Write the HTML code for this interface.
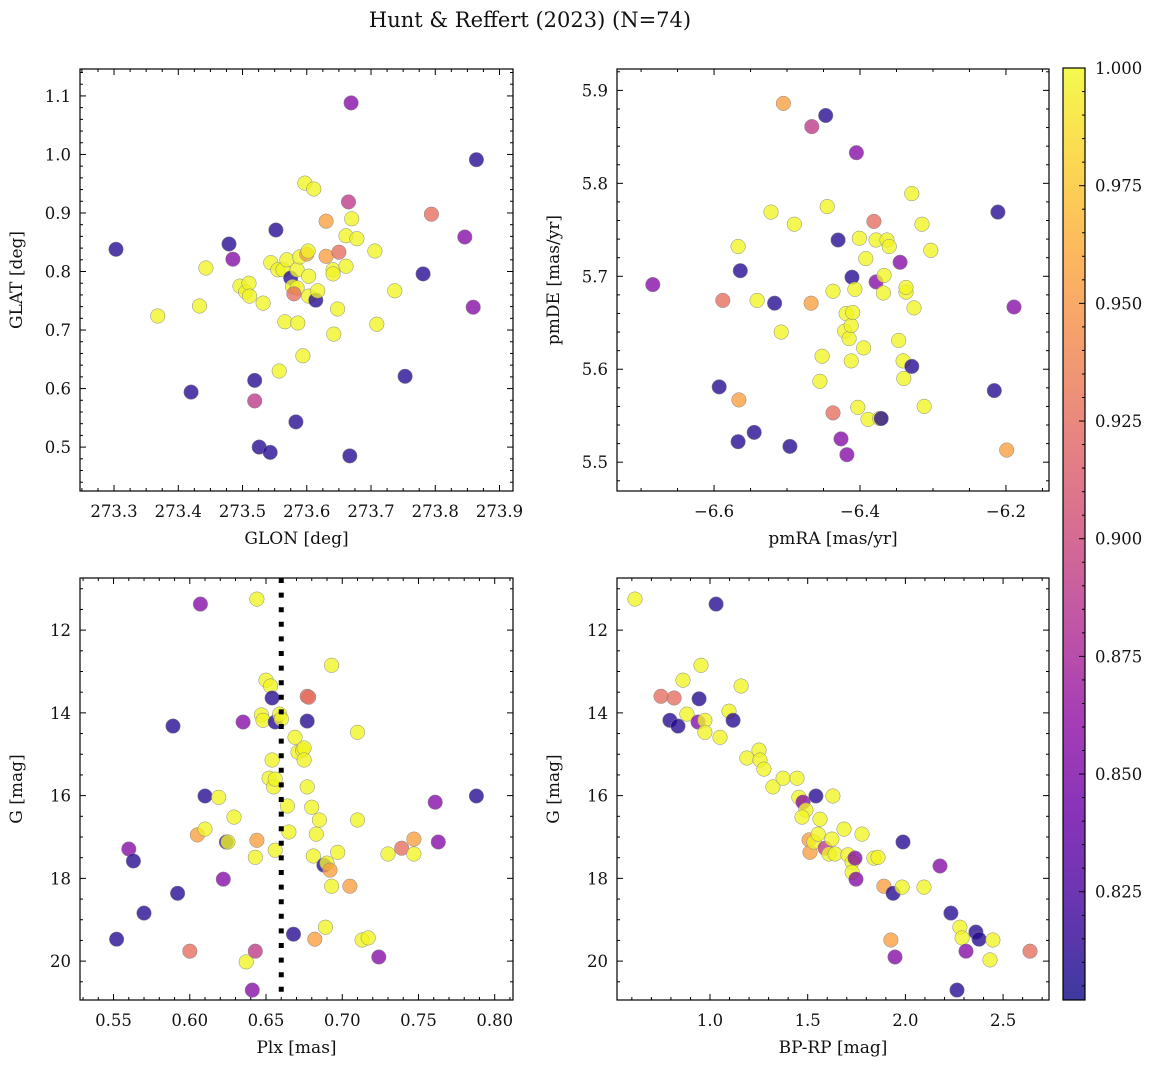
<!DOCTYPE html>
<html><head><meta charset="utf-8">
<style>
html,body{margin:0;padding:0;background:#fff;}
svg text{font-family:"DejaVu Serif","Liberation Serif",serif;fill:#111;}
</style></head>
<body>
<svg id="fig" width="1160" height="1068" viewBox="0 0 1160 1068" xmlns="http://www.w3.org/2000/svg">
<text x="530" y="27" font-size="21" text-anchor="middle">Hunt &amp; Reffert (2023) (N=74)</text>
</svg>
<script>
// Colour classes (membership probability)
const D=0.81, P=0.855, M=0.89, S=0.925, O=0.955, Y=0.998;

// Panel 1: GLON / GLAT
const p1Glon=[273.303,273.368,273.420,273.433,273.443,273.479,273.485,273.496,273.505,273.510,273.511,273.519,273.526,273.532,273.519,273.544,273.543,273.552,273.555,273.557,273.563,273.566,273.569,273.575,273.578,273.583,273.585,273.585,273.586,273.589,273.594,273.597,273.600,273.602,273.603,273.603,273.580,273.611,273.614,273.617,273.630,273.630,273.641,273.641,273.642,273.648,273.650,273.661,273.661,273.665,273.667,273.669,273.670,273.678,273.706,273.709,273.737,273.753,273.781,273.794,273.846,273.859,273.864];
const p1Glat=[0.838,0.724,0.594,0.741,0.806,0.847,0.821,0.775,0.765,0.780,0.758,0.614,0.500,0.746,0.579,0.815,0.491,0.871,0.803,0.630,0.803,0.714,0.820,0.789,0.774,0.543,0.803,0.772,0.712,0.825,0.656,0.951,0.830,0.835,0.792,0.758,0.762,0.941,0.751,0.767,0.886,0.826,0.803,0.796,0.693,0.736,0.833,0.809,0.861,0.919,0.485,1.088,0.890,0.856,0.835,0.710,0.767,0.621,0.796,0.898,0.859,0.739,0.991];
const p1Prob=[D,Y,D,Y,Y,D,P,Y,Y,Y,Y,D,D,Y,M,Y,D,D,Y,Y,Y,Y,Y,D,Y,D,Y,Y,Y,Y,Y,Y,O,Y,Y,Y,S,Y,D,Y,O,O,Y,Y,Y,Y,S,Y,Y,M,D,P,Y,Y,Y,Y,Y,D,D,S,P,P,D];

// Panel 2: pmRA / pmDE
const p2Pmra=[-6.684,-6.593,-6.588,-6.567,-6.567,-6.566,-6.564,-6.545,-6.541,-6.522,-6.517,-6.508,-6.505,-6.496,-6.490,-6.467,-6.466,-6.447,-6.455,-6.452,-6.445,-6.437,-6.437,-6.430,-6.426,-6.421,-6.419,-6.418,-6.415,-6.412,-6.412,-6.411,-6.410,-6.407,-6.405,-6.403,-6.401,-6.395,-6.392,-6.389,-6.381,-6.378,-6.378,-6.373,-6.371,-6.368,-6.367,-6.363,-6.360,-6.345,-6.347,-6.337,-6.337,-6.340,-6.341,-6.329,-6.329,-6.326,-6.315,-6.312,-6.303,-6.216,-6.211,-6.199,-6.189];
const p2Pmde=[5.691,5.581,5.674,5.522,5.732,5.567,5.706,5.532,5.674,5.769,5.671,5.640,5.886,5.517,5.756,5.671,5.861,5.873,5.587,5.614,5.775,5.684,5.553,5.739,5.525,5.641,5.660,5.508,5.633,5.647,5.609,5.699,5.661,5.686,5.833,5.559,5.741,5.623,5.719,5.546,5.759,5.739,5.694,5.547,5.547,5.682,5.701,5.739,5.732,5.715,5.631,5.683,5.688,5.590,5.609,5.603,5.789,5.666,5.756,5.560,5.728,5.577,5.769,5.513,5.667];
const p2Prob=[P,D,S,D,Y,O,D,D,Y,Y,D,Y,O,D,Y,O,M,D,Y,Y,Y,Y,S,D,P,Y,Y,P,Y,Y,Y,D,Y,Y,P,Y,Y,Y,Y,Y,S,Y,P,Y,D,Y,Y,Y,Y,P,Y,Y,Y,Y,Y,D,Y,Y,Y,Y,Y,D,D,O,P];

// Panel 3: Plx / G
const p3Plx=[0.552,0.560,0.563,0.570,0.589,0.592,0.600,0.605,0.607,0.610,0.619,0.622,0.624,0.625,0.629,0.635,0.637,0.641,0.643,0.644,0.644,0.647,0.648,0.650,0.652,0.653,0.654,0.654,0.655,0.656,0.656,0.659,0.660,0.664,0.665,0.668,0.669,0.671,0.674,0.675,0.675,0.677,0.678,0.677,0.677,0.680,0.681,0.683,0.685,0.688,0.689,0.690,0.682,0.692,0.693,0.693,0.697,0.705,0.710,0.710,0.713,0.717,0.724,0.730,0.739,0.747,0.747,0.761,0.763,0.788,0.656,0.643,0.610];
const p3G=[19.47,17.29,17.58,18.84,14.32,18.36,19.76,16.95,11.37,16.01,16.04,18.02,17.12,17.12,16.52,14.22,20.02,20.70,19.76,11.25,17.08,14.05,14.18,13.21,15.58,13.35,13.64,15.14,15.79,15.60,14.22,14.03,14.15,16.25,16.88,19.35,14.59,14.95,14.90,14.85,15.14,13.60,13.62,14.20,15.79,16.28,17.46,16.93,16.59,17.68,19.18,17.63,19.47,17.80,18.19,12.85,17.37,18.19,14.47,16.59,19.49,19.44,19.90,17.41,17.27,17.05,17.41,16.16,17.12,16.01,17.32,17.49,16.81];
const p3Prob=[D,P,D,D,D,D,S,O,P,D,Y,P,D,Y,Y,P,Y,P,M,Y,O,Y,Y,Y,Y,Y,D,Y,Y,Y,D,Y,Y,Y,Y,D,Y,Y,Y,Y,Y,S,S,D,Y,Y,Y,Y,Y,D,Y,Y,O,O,Y,Y,Y,O,Y,Y,Y,Y,P,Y,S,O,Y,P,P,D,Y,Y,Y];

// Panel 4: BP-RP / G
const p4Bprp=[0.616,1.031,0.749,0.816,0.944,0.862,0.954,0.795,0.836,0.882,0.939,0.974,0.974,1.051,1.097,1.118,1.159,1.189,1.251,1.256,1.276,1.322,1.374,1.445,1.455,1.476,1.491,1.471,1.507,1.512,1.532,1.542,1.553,1.563,1.589,1.609,1.624,1.640,1.629,1.686,1.706,1.727,1.727,1.742,1.747,1.778,1.839,1.860,1.890,1.926,1.937,1.947,1.983,1.988,2.095,2.177,2.233,2.279,2.290,2.361,2.377,2.310,2.264,2.433,2.448,2.638];
const p4G=[11.25,11.37,13.60,13.64,13.66,13.21,12.85,14.18,14.32,14.03,14.22,14.18,14.47,14.59,13.96,14.18,13.35,15.09,14.90,15.14,15.36,15.79,15.58,15.58,16.04,16.16,16.35,16.52,17.07,17.37,17.12,16.01,16.93,16.57,17.27,17.41,17.05,17.41,16.01,16.81,17.43,17.61,17.85,17.51,18.02,16.93,17.51,17.49,18.19,19.49,18.36,19.90,18.21,17.12,18.21,17.70,18.84,19.18,19.44,19.30,19.47,19.76,20.70,19.97,19.49,19.76];
const p4Prob=[Y,D,S,S,D,Y,Y,D,D,Y,P,Y,Y,Y,Y,D,Y,Y,Y,Y,Y,Y,Y,Y,Y,P,Y,Y,O,O,Y,D,Y,Y,M,Y,Y,Y,Y,Y,Y,Y,Y,P,P,Y,Y,Y,O,O,D,P,Y,D,Y,P,D,Y,Y,D,D,P,D,Y,Y,S];

const cbTicks=[0.825,0.850,0.875,0.900,0.925,0.950,0.975,1.000];
const VMIN=0.802, VMAX=1.0;

const NS="http://www.w3.org/2000/svg";
const svg=document.getElementById('fig');
function el(tag,attrs,parent){const e=document.createElementNS(NS,tag);for(const k in attrs)e.setAttribute(k,attrs[k]);(parent||svg).appendChild(e);return e;}

const plasma=[[13,8,135],[65,4,157],[106,0,168],[143,13,164],[177,42,144],[204,71,120],[225,100,98],[242,132,75],[252,166,54],[252,206,37],[240,249,33]];
function cmap(t){t=Math.max(0,Math.min(1,t))*10;const i=Math.min(9,Math.floor(t)),f=t-i;const a=plasma[i],b=plasma[i+1];return 'rgb('+[0,1,2].map(k=>Math.round(a[k]+(b[k]-a[k])*f)).join(',')+')';}
function colorOf(v){return cmap((v-VMIN)/(VMAX-VMIN));}

function fmt(v,d){return v.toFixed(d).replace('-','\u2212');}

function panel(cfg){
  const {name,x0,y0,w,h,xmin,xmax,ymin,ymax,yinv,xmaj,xmin_,ymaj,ymin_,xdec,ydec,xlabel,ylabel,xs,ys,cs}=cfg;
  const sx=v=>x0+(v-xmin)/(xmax-xmin)*w;
  const sy=v=>yinv? y0+(v-ymin)/(ymax-ymin)*h : y0+h-(v-ymin)/(ymax-ymin)*h;
  const g=el('g',{});
  
  
  const pts=el('g',{},g);
  
  
  for(let i=0;i<xs.length;i++){
    const c=el('circle',{cx:sx(xs[i]).toFixed(1),cy:sy(ys[i]).toFixed(1),r:7.3,fill:colorOf(cs[i]),'fill-opacity':0.78,stroke:'#888','stroke-width':0.5},pts);
    
    
  }
  if(cfg.extra)cfg.extra(g,sx,sy);
  const frame=el('rect',{x:x0,y:y0,width:w,height:h,fill:'none',stroke:'#000','stroke-width':1.2},g);
  
  
  const lo=Math.min(xmin,xmax),hi=Math.max(xmin,xmax);
  for(let k=Math.ceil(lo/xmin_-1e-6);k*xmin_<=hi+1e-9;k++){
    const v=k*xmin_;const X=sx(v);const isMaj=Math.abs(v/xmaj-Math.round(v/xmaj))<1e-6;const L=isMaj?6:3;
    el('line',{x1:X,x2:X,y1:y0+h,y2:y0+h-L,stroke:'#000','stroke-width':1},g);
    el('line',{x1:X,x2:X,y1:y0,y2:y0+L,stroke:'#000','stroke-width':1},g);
    if(isMaj){const t=el('text',{x:X,y:y0+h+26,'font-size':16.5,'text-anchor':'middle'},g);t.textContent=fmt(v,xdec);
      }
  }
  const ylo=Math.min(ymin,ymax),yhi=Math.max(ymin,ymax);
  for(let k=Math.ceil(ylo/ymin_-1e-6);k*ymin_<=yhi+1e-9;k++){
    const v=k*ymin_;const Y=sy(v);const isMaj=Math.abs(v/ymaj-Math.round(v/ymaj))<1e-6;const L=isMaj?6:3;
    el('line',{x1:x0,x2:x0+L,y1:Y,y2:Y,stroke:'#000','stroke-width':1},g);
    el('line',{x1:x0+w,x2:x0+w-L,y1:Y,y2:Y,stroke:'#000','stroke-width':1},g);
    if(isMaj){const t=el('text',{x:x0-9,y:Y+6,'font-size':16.5,'text-anchor':'end'},g);t.textContent=fmt(v,ydec);
      }
  }
  const xl=el('text',{x:x0+w/2,y:y0+h+53,'font-size':17,'text-anchor':'middle'},g);xl.textContent=xlabel;
  
  const ylx=x0-58;const yly=y0+h/2;
  const yl=el('text',{x:ylx,y:yly,'font-size':17,'text-anchor':'middle',transform:`rotate(-90 ${ylx} ${yly})`},g);yl.textContent=ylabel;
  
}

panel({name:'glon-glat',x0:80,y0:69,w:433,h:422,xmin:273.247,xmax:273.921,ymin:0.425,ymax:1.146,xmaj:0.1,xmin_:0.025,ymaj:0.1,ymin_:0.02,xdec:1,ydec:1,xlabel:'GLON [deg]',ylabel:'GLAT [deg]',xs:p1Glon,ys:p1Glat,cs:p1Prob});
panel({name:'proper-motion',x0:617,y0:69,w:432,h:422,xmin:-6.733,xmax:-6.141,ymin:5.469,ymax:5.923,xmaj:0.2,xmin_:0.05,ymaj:0.1,ymin_:0.02,xdec:1,ydec:1,xlabel:'pmRA [mas/yr]',ylabel:'pmDE [mas/yr]',xs:p2Pmra,ys:p2Pmde,cs:p2Prob});
panel({name:'plx-g',x0:80,y0:578,w:433,h:422,xmin:0.528,xmax:0.812,ymin:10.74,ymax:20.94,yinv:true,xmaj:0.05,xmin_:0.01,ymaj:2,ymin_:0.5,xdec:2,ydec:0,xlabel:'Plx [mas]',ylabel:'G [mag]',xs:p3Plx,ys:p3G,cs:p3Prob,
  extra:(g,sx,sy)=>{const X=sx(0.66);const l=el('line',{x1:X,x2:X,y1:578,y2:1000,stroke:'#000','stroke-width':5,'stroke-dasharray':'5,9.6'},g);
    }});
panel({name:'cmd',x0:617,y0:578,w:432,h:422,xmin:0.524,xmax:2.735,ymin:10.74,ymax:20.94,yinv:true,xmaj:0.5,xmin_:0.1,ymaj:2,ymin_:0.5,xdec:1,ydec:0,xlabel:'BP-RP [mag]',ylabel:'G [mag]',xs:p4Bprp,ys:p4G,cs:p4Prob});

// colorbar
(function(){
  const cx=1063,cy=68,cw=22,ch=932;
  const defs=el('defs',{});
  const lg=el('linearGradient',{id:'cbg',x1:0,y1:1,x2:0,y2:0},defs);
  for(let i=0;i<=10;i++)el('stop',{offset:i/10,'stop-color':cmap(i/10),'stop-opacity':0.8},lg);
  const g=el('g',{});
  
  
  el('rect',{x:cx,y:cy,width:cw,height:ch,fill:'url(#cbg)',stroke:'#000','stroke-width':1.2},g);
  const sy=v=>cy+ch-(v-VMIN)/(VMAX-VMIN)*ch;
  for(let v=0.805;v<=1.0001;v+=0.005){const Y=sy(v);const isMaj=cbTicks.some(t=>Math.abs(t-v)<1e-6);
    el('line',{x1:cx+cw,x2:cx+cw-(isMaj?6:3),y1:Y,y2:Y,stroke:'#000','stroke-width':1},g);}
  cbTicks.forEach(v=>{const t=el('text',{x:cx+cw+10,y:sy(v)+6,'font-size':16.5},g);t.textContent=v.toFixed(3);
    });
})();
</script>
</body></html>
